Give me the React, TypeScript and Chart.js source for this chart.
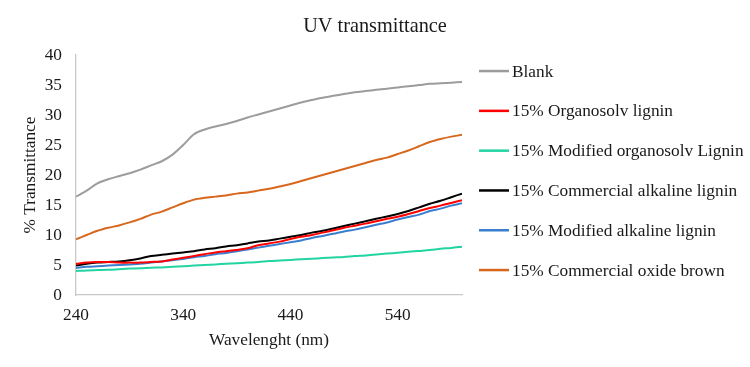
import React, { useEffect, useRef } from "react";
import { Chart, registerables } from "chart.js";

Chart.register(...registerables);

const wavelengths = [
  240, 250, 260, 270, 280, 290, 300, 310, 320, 330, 340, 350, 360, 370, 380, 390, 400, 410, 420,
  430, 440, 450, 460, 470, 480, 490, 500, 510, 520, 530, 540, 550, 560, 570, 580, 590, 600,
];

const blank = [
  16.4, 17.4, 18.6, 19.3, 19.8, 20.3, 20.9, 21.6, 22.3, 23.4, 25.0, 26.8, 27.6, 28.1, 28.5, 29.0,
  29.6, 30.1, 30.6, 31.1, 31.6, 32.1, 32.5, 32.9, 33.2, 33.5, 33.8, 34.0, 34.2, 34.4, 34.6, 34.8,
  35.0, 35.2, 35.3, 35.4, 35.5,
];

const organosolv = [
  5.2, 5.4, 5.5, 5.5, 5.4, 5.4, 5.4, 5.5, 5.6, 5.9, 6.2, 6.5, 6.8, 7.1, 7.3, 7.5, 7.8, 8.3, 8.6,
  8.9, 9.35, 9.7, 10.0, 10.4, 10.8, 11.2, 11.55, 11.9, 12.3, 12.7, 13.05, 13.5, 14.0, 14.5, 14.9,
  15.35, 15.8,
];

const modifiedOrganosolv = [
  4.0, 4.1, 4.15, 4.2, 4.3, 4.4, 4.45, 4.55, 4.6, 4.7, 4.8, 4.9, 5.0, 5.1, 5.2, 5.3, 5.4, 5.5,
  5.65, 5.75, 5.85, 5.95, 6.05, 6.15, 6.25, 6.35, 6.5, 6.6, 6.75, 6.9, 7.05, 7.2, 7.35, 7.5, 7.7,
  7.85, 8.05,
];

const commercialAlkaline = [
  4.9, 5.2, 5.4, 5.5, 5.6, 5.8, 6.1, 6.5, 6.7, 6.9, 7.1, 7.3, 7.6, 7.8, 8.1, 8.3, 8.6, 8.9, 9.1,
  9.4, 9.7, 10.0, 10.4, 10.7, 11.1, 11.5, 11.9, 12.3, 12.7, 13.1, 13.5, 14.0, 14.6, 15.2, 15.7,
  16.3, 16.9,
];

const modifiedAlkaline = [
  4.5, 4.7, 4.8, 4.9, 5.0, 5.1, 5.2, 5.4, 5.6, 5.8, 6.0, 6.3, 6.5, 6.8, 7.0, 7.3, 7.6, 7.9, 8.2,
  8.5, 8.8, 9.1, 9.5, 9.85, 10.2, 10.6, 10.9, 11.3, 11.7, 12.1, 12.6, 13.0, 13.4, 14.0, 14.4,
  14.9, 15.3,
];

const oxideBrown = [
  9.3, 10.0, 10.7, 11.2, 11.6, 12.1, 12.7, 13.4, 13.9, 14.6, 15.3, 15.9, 16.2, 16.4, 16.6, 16.9,
  17.1, 17.4, 17.7, 18.1, 18.5, 19.0, 19.5, 20.0, 20.5, 21.0, 21.5, 22.0, 22.5, 22.9, 23.5, 24.1,
  24.8, 25.5, 26.0, 26.4, 26.7,
];

const xTickValues = [240, 340, 440, 540];

const seriesLabels = [
  "Blank",
  "15% Organosolv lignin",
  "15% Modified organosolv Lignin",
  "15% Commercial alkaline lignin",
  "15% Modified alkaline lignin",
  "15% Commercial oxide brown",
];
const seriesColors = ["#9C9C9C", "#FF0000", "#22D4A2", "#000000", "#3A7FCF", "#D8671E"];
const seriesValues = [blank, organosolv, modifiedOrganosolv, commercialAlkaline, modifiedAlkaline, oxideBrown];

const FONT = "'Liberation Serif', 'Times New Roman', serif";

const sideLegend = {
  id: "sideLegend",
  afterDraw(chart: any) {
    const { ctx, chartArea } = chart;
    ctx.save();
    ctx.font = `17.3px ${FONT}`;
    ctx.textBaseline = "middle";
    ctx.textAlign = "left";
    chart.data.datasets.forEach((ds: any, i: number) => {
      const y = chartArea.top + 16 + i * 39.8;
      const x0 = chartArea.right + 17;
      ctx.strokeStyle = ds.borderColor;
      ctx.lineWidth = 2.5;
      ctx.beginPath();
      ctx.moveTo(x0, y);
      ctx.lineTo(x0 + 30, y);
      ctx.stroke();
      ctx.fillStyle = "#1a1a1a";
      ctx.fillText(ds.label, x0 + 33, y + 1);
    });
    ctx.restore();
  },
};

export default function App() {
  const ref = useRef<HTMLCanvasElement | null>(null);

  useEffect(() => {
    if (!ref.current) return;
    const chart = new Chart(ref.current, {
      type: "line",
      data: {
        datasets: seriesLabels.map((label, s) => ({
          label,
          data: wavelengths.map((w, i) => ({ x: w, y: seriesValues[s][i] })),
          borderColor: seriesColors[s],
          backgroundColor: seriesColors[s],
          borderWidth: 2,
          pointRadius: 0,
          tension: 0.3,
          fill: false,
          yAxisID: "y",
        })),
      },
      options: {
        animation: false,
        responsive: false,
        maintainAspectRatio: false,
        layout: { padding: { left: 0, right: 0, top: 0, bottom: 0 } },
        plugins: {
          legend: { display: false },
          tooltip: { enabled: false },
          title: {
            display: true,
            text: "UV transmittance",
            color: "#1a1a1a",
            font: { family: FONT, size: 20.3, weight: "normal" },
            padding: { top: 14.5, bottom: 16.2 },
          },
        },
        scales: {
          x: {
            type: "linear",
            min: 240,
            max: 600,
            afterBuildTicks: (scale: any) => {
              scale.ticks = xTickValues.map((v) => ({ value: v }));
            },
            afterFit: (scale: any) => {
              scale.height = 72;
            },
            grid: { display: false, drawTicks: false },
            border: { display: true, color: "#C8C8C8", width: 1.3 },
            ticks: {
              padding: 9.6,
              color: "#1a1a1a",
              font: { family: FONT, size: 17.3 },
              maxRotation: 0,
              autoSkip: false,
            },
            title: {
              display: true,
              text: "Wavelenght (nm)",
              color: "#1a1a1a",
              font: { family: FONT, size: 17.3 },
              padding: { top: 4, bottom: 16.6 },
            },
          },
          y: {
            min: 0,
            max: 40,
            afterFit: (scale: any) => {
              scale.width = 76;
            },
            grid: { display: false, drawTicks: false },
            border: { display: true, color: "#C8C8C8", width: 1.3 },
            ticks: {
              stepSize: 5,
              padding: 14,
              color: "#1a1a1a",
              font: { family: FONT, size: 17.3 },
            },
            title: {
              display: true,
              text: "% Transmittance",
              color: "#1a1a1a",
              font: { family: FONT, size: 17.3 },
              padding: { top: 19.6, bottom: 4 },
            },
          },
          legendSpace: {
            position: "right",
            display: true,
            afterFit: (scale: any) => {
              scale.width = 288;
            },
            grid: { display: false, drawTicks: false },
            border: { display: false },
            ticks: { display: false },
          },
        },
      },
      plugins: [sideLegend],
    });
    return () => chart.destroy();
  }, []);

  return (
    <div style={{ position: "fixed", left: 0, top: 0, width: 750, height: 367, background: "#fff" }}>
      <canvas ref={ref} width={750} height={367} style={{ display: "block", width: 750, height: 367 }} />
    </div>
  );
}
